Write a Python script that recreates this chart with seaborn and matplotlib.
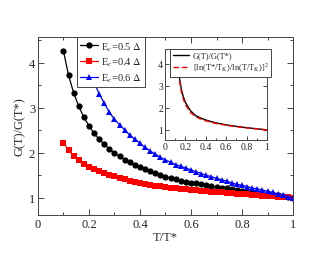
import numpy as np
import pandas as pd
import matplotlib
matplotlib.use("Agg")
import matplotlib.pyplot as plt
import seaborn as sns

sns.set_style("ticks")
plt.rcParams['font.family'] = ['Liberation Serif', 'DejaVu Serif']
plt.rcParams['mathtext.fontset'] = 'stix'
plt.rcParams['xtick.direction'] = 'in'
plt.rcParams['ytick.direction'] = 'in'
plt.rcParams['xtick.top'] = True
plt.rcParams['ytick.right'] = True

# main panel data, T/T* from 0.1 to 1 in steps of 0.02
t_main = [0.10, 0.12, 0.14, 0.16, 0.18, 0.20, 0.22, 0.24, 0.26, 0.28,
          0.30, 0.32, 0.34, 0.36, 0.38, 0.40, 0.42, 0.44, 0.46, 0.48,
          0.50, 0.52, 0.54, 0.56, 0.58, 0.60, 0.62, 0.64, 0.66, 0.68,
          0.70, 0.72, 0.74, 0.76, 0.78, 0.80, 0.82, 0.84, 0.86, 0.88,
          0.90, 0.92, 0.94, 0.96, 0.98, 1.00]
g_ec05 = [4.26, 3.72, 3.33, 3.03, 2.79, 2.60, 2.43, 2.30, 2.19, 2.08,
          1.99, 1.92, 1.85, 1.79, 1.74, 1.69, 1.64, 1.59, 1.55, 1.51,
          1.47, 1.44, 1.41, 1.38, 1.36, 1.34, 1.32, 1.30, 1.28, 1.26,
          1.24, 1.225, 1.21, 1.19, 1.175, 1.16, 1.145, 1.13, 1.115, 1.10,
          1.09, 1.07, 1.055, 1.04, 1.02, 1.00]
g_ec04 = [2.22, 2.06, 1.93, 1.84, 1.76, 1.69, 1.63, 1.59, 1.55, 1.51,
          1.48, 1.44, 1.41, 1.38, 1.355, 1.33, 1.31, 1.29, 1.27, 1.255,
          1.24, 1.225, 1.21, 1.20, 1.19, 1.18, 1.17, 1.16, 1.15, 1.14,
          1.13, 1.12, 1.11, 1.10, 1.095, 1.085, 1.075, 1.07, 1.06, 1.05,
          1.045, 1.035, 1.025, 1.02, 1.01, 1.00]
t_ec06 = t_main[5:]
g_ec06 = [3.95, 3.57, 3.31, 3.10, 2.90, 2.74, 2.62, 2.51, 2.39, 2.30,
          2.21, 2.12, 2.04, 1.97, 1.90, 1.84, 1.79, 1.74, 1.70, 1.66,
          1.62, 1.58, 1.54, 1.50, 1.47, 1.43, 1.40, 1.37, 1.33, 1.30,
          1.28, 1.25, 1.22, 1.20, 1.17, 1.15, 1.12, 1.09, 1.06, 1.03,
          1.00]

# inset data
t_inset = [0.10, 0.12, 0.14, 0.16, 0.18, 0.20, 0.25, 0.30, 0.35, 0.40,
           0.45, 0.50, 0.60, 0.70, 0.80, 0.90, 1.00]
g_inset = [5.60, 4.30, 3.40, 2.85, 2.50, 2.25, 1.87, 1.65, 1.54, 1.45,
           1.38, 1.32, 1.23, 1.16, 1.10, 1.05, 1.00]
ln_ratio = [5.50, 4.20, 3.30, 2.75, 2.40, 2.15, 1.79, 1.60, 1.49, 1.41,
            1.35, 1.29, 1.21, 1.145, 1.09, 1.045, 1.00]

fig = plt.figure(figsize=(3.3, 2.55), dpi=100)
ax = fig.add_axes([0.115, 0.153, 0.773, 0.698])

sns.lineplot(x=t_main, y=g_ec05, ax=ax, color='black', marker='o', markersize=4.5,
             markeredgewidth=0, linewidth=0.9, label=r'E$_c$=0.5 $\Delta$')
sns.lineplot(x=t_main, y=g_ec04, ax=ax, color='red', marker='s', markersize=3.8,
             markeredgewidth=0, linewidth=0.9, label=r'E$_c$=0.4 $\Delta$')
sns.lineplot(x=t_ec06, y=g_ec06, ax=ax, color='blue', marker='^', markersize=4.5,
             markeredgewidth=0, linewidth=0.9, label=r'E$_c$=0.6 $\Delta$')

ax.set_xlim(0, 1)
ax.set_ylim(0.62, 4.57)
ax.set_xticks([0, 0.2, 0.4, 0.6, 0.8, 1])
ax.set_xticklabels(['0', '0.2', '0.4', '0.6', '0.8', '1'])
ax.set_xticks(np.arange(0.1, 1.0, 0.2), minor=True)
ax.set_yticks([1, 2, 3, 4])
ax.set_yticks([1.5, 2.5, 3.5, 4.5], minor=True)
ax.tick_params(which='major', length=4, width=0.6, labelsize=9, pad=2)
ax.tick_params(which='minor', length=2, width=0.6)
for s in ax.spines.values():
    s.set_linewidth(0.7)
    s.set_color('#444444')
ax.set_xlabel('T/T*', fontsize=9, labelpad=1)
ax.set_ylabel('G(T)/G(T*)', fontsize=9, labelpad=2)

leg = ax.legend(loc='upper left', bbox_to_anchor=(0.153, 1.0), borderaxespad=0,
                fontsize=7.5, fancybox=False, framealpha=1, edgecolor='#444444',
                handlelength=1.7, handletextpad=0.3, borderpad=0.3, labelspacing=0.3)
leg.get_frame().set_linewidth(0.7)

ins = fig.add_axes([0.5, 0.447, 0.309, 0.357])
sns.lineplot(x=t_inset, y=g_inset, ax=ins, color='black', linewidth=1.0,
             label='G(T)/G(T*)')
sns.lineplot(x=t_inset, y=ln_ratio, ax=ins, color='red', linewidth=1.0,
             linestyle=(0, (4, 2)),
             label=r'[ln(T*/T$_\mathrm{K}$)/ln(T/T$_\mathrm{K}$)]$^2$')
ins.set_xlim(0, 1)
ins.set_ylim(0.54, 4.68)
ins.set_xticks([0, 0.2, 0.4, 0.6, 0.8, 1])
ins.set_xticklabels(['0', '0.2', '0.4', '0.6', '0.8', '1'])
ins.set_xticks(np.arange(0.1, 1.0, 0.2), minor=True)
ins.set_yticks([1, 2, 3, 4])
ins.tick_params(which='major', length=3, width=0.6, labelsize=7, pad=1.5)
ins.tick_params(which='minor', length=1.5, width=0.6)
for s in ins.spines.values():
    s.set_linewidth(0.7)
    s.set_color('#444444')
leg2 = ins.legend(loc='upper left', bbox_to_anchor=(0.05, 1.0), borderaxespad=0,
                  fontsize=6, fancybox=False, framealpha=1, edgecolor='#444444',
                  handlelength=2.0, handletextpad=0.4, borderpad=0.3, labelspacing=0.2)
leg2.get_frame().set_linewidth(0.7)

fig.savefig('out.png', dpi=100)
